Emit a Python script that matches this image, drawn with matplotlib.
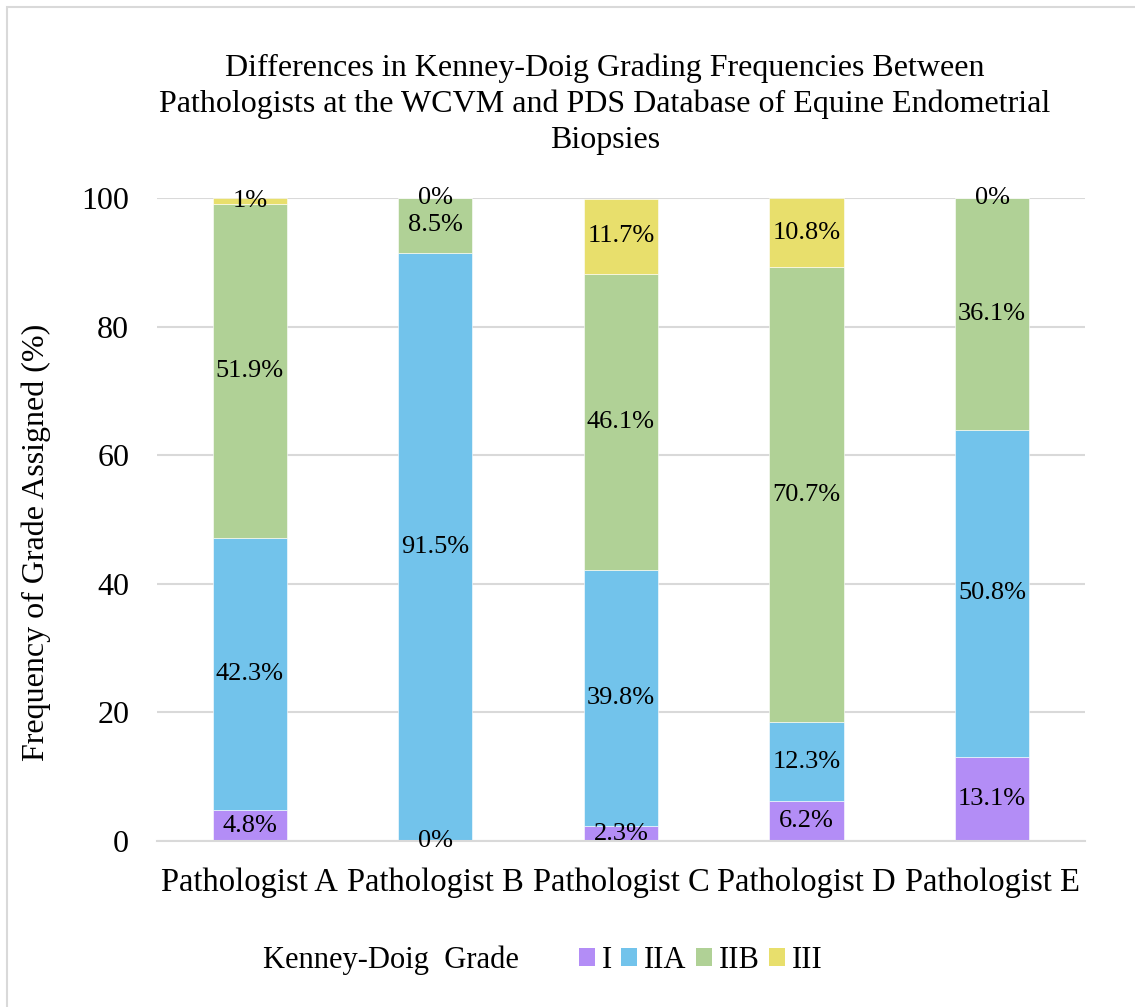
import numpy as np
import matplotlib.pyplot as plt
from matplotlib.patches import Rectangle, Patch

plt.rcParams['font.family'] = ['Liberation Serif', 'DejaVu Serif']

pathologists = ['Pathologist A', 'Pathologist B', 'Pathologist C', 'Pathologist D', 'Pathologist E']
grades = ['I', 'IIA', 'IIB', 'III']
grade_I = [4.8, 0, 2.3, 6.2, 13.1]
grade_IIA = [42.3, 91.5, 39.8, 12.3, 50.8]
grade_IIB = [51.9, 8.5, 46.1, 70.7, 36.1]
grade_III = [1, 0, 11.7, 10.8, 0]
colors = ['#B38DF6', '#72C3EB', '#B0D196', '#E8DF6C']

fig = plt.figure(figsize=(11.35, 10.07), dpi=100)
ax = fig.add_axes([0.1383, 0.1648, 0.8176, 0.6386])

x = np.arange(len(pathologists))
bottom = np.zeros(len(pathologists))
for vals, c in zip([grade_I, grade_IIA, grade_IIB, grade_III], colors):
    vals = np.array(vals, dtype=float)
    ax.bar(x, vals, 0.4, bottom=bottom, color=c, edgecolor='white', linewidth=0.4, zorder=2)
    for xi, b, v in zip(x, bottom, vals):
        ax.text(xi, b + v / 2, f'{v:g}%', ha='center', va='center', fontsize=19, zorder=3)
    bottom += vals

ax.set_xlim(-0.5, 4.5)
ax.set_ylim(0, 100)
ax.set_yticks(np.arange(0, 101, 20))
ax.set_xticks(x)
ax.set_xticklabels(pathologists, fontsize=23.5)
ax.yaxis.grid(True, color='#D9D9D9', linewidth=1.5, zorder=0)
ax.set_axisbelow(True)
for s in ['top', 'right', 'left']:
    ax.spines[s].set_visible(False)
ax.spines['bottom'].set_color('#D9D9D9')
ax.spines['bottom'].set_linewidth(1.5)
ax.tick_params(axis='both', length=0)
ax.tick_params(axis='y', pad=20, labelsize=23)
ax.tick_params(axis='x', pad=19)
ax.set_ylabel('Frequency of Grade Assigned (%)', fontsize=23)
ax.yaxis.set_label_coords(51 / 1135, 1 - 542 / 1007, transform=fig.transFigure)

fig.text(605 / 1135, 1 - 104 / 1007,
         'Differences in Kenney-Doig Grading Frequencies Between\n'
         'Pathologists at the WCVM and PDS Database of Equine Endometrial\n'
         'Biopsies', ha='center', va='center', fontsize=23, linespacing=1.3)

# legend: title on the left, colour keys in one row
fig.text(263 / 1135, 1 - 960 / 1007, 'Kenney-Doig  Grade', ha='left', va='center', fontsize=22)
handles = [Patch(facecolor=c, edgecolor='none') for c in colors]
fig.legend(handles, grades, loc='center left', bbox_to_anchor=(579 / 1135, 1 - 960 / 1007),
           ncol=4, frameon=False, fontsize=22, handlelength=0.52, handleheight=0.52,
           handletextpad=0.23, columnspacing=0.3, borderaxespad=0, borderpad=0)

# chart area border
fig.patches.append(Rectangle((7 / 1135, -0.1), 1.2, 1 - 7 / 1007 + 0.1, transform=fig.transFigure,
                             fill=False, edgecolor='#D9D9D9', linewidth=1.5))

fig.savefig('out.png', dpi=100)
